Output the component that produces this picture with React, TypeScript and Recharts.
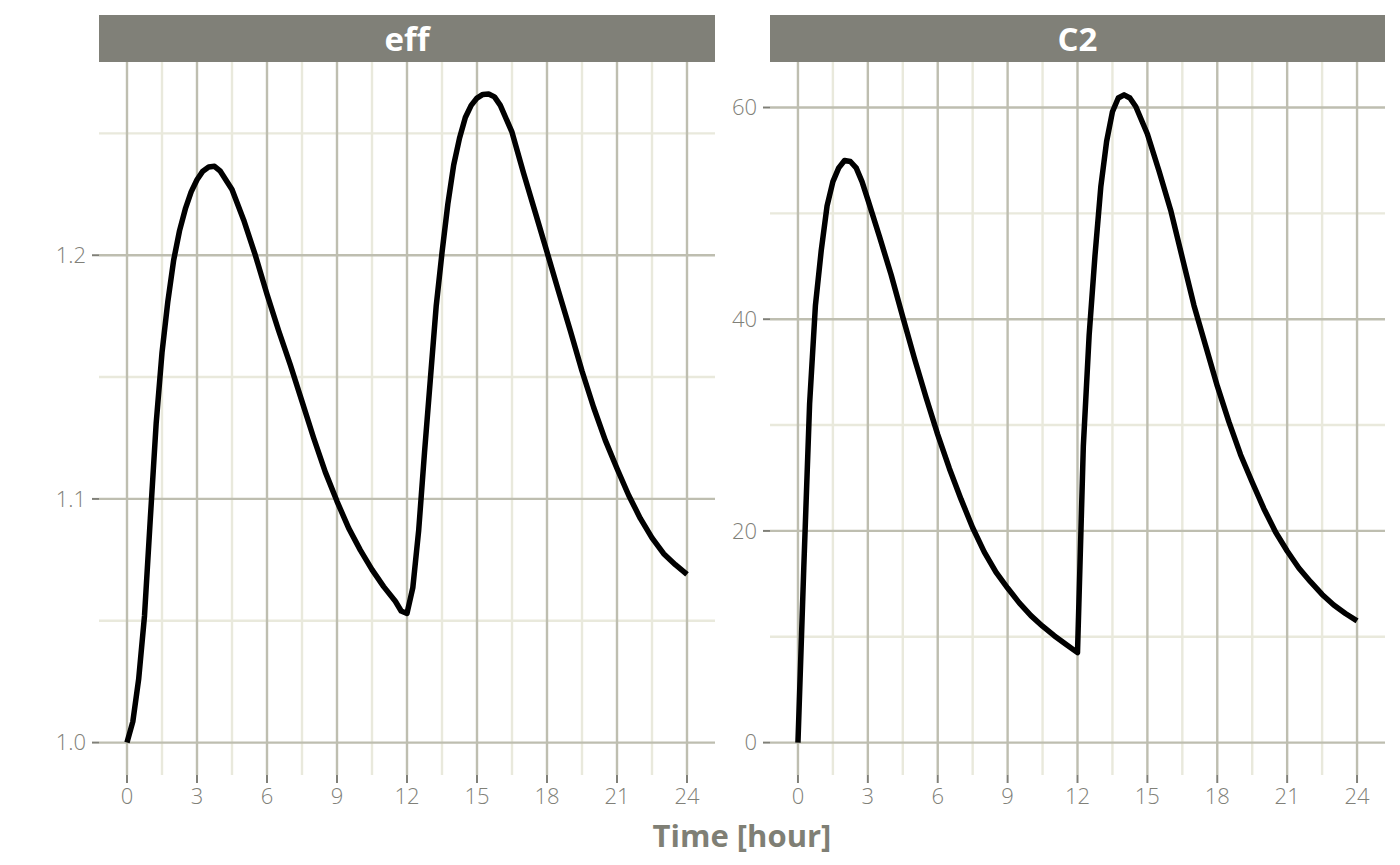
import React from 'react'
import { LineChart, Line, XAxis, YAxis, CartesianGrid } from 'recharts'

// eff panel
const effTime = [
  0, 0.25, 0.5, 0.75, 1, 1.25, 1.5, 1.75, 2, 2.25, 2.5, 2.75, 3, 3.25, 3.5, 3.75, 4, 4.5, 5, 5.5,
  6, 6.5, 7, 7.5, 8, 8.5, 9, 9.5, 10, 10.5, 11, 11.5, 11.75, 12, 12.25, 12.5, 12.75, 13, 13.25,
  13.5, 13.75, 14, 14.25, 14.5, 14.75, 15, 15.25, 15.5, 15.75, 16, 16.5, 17, 17.5, 18, 18.5, 19,
  19.5, 20, 20.5, 21, 21.5, 22, 22.5, 23, 23.5, 24,
]
const effValues = [
  1.0, 1.0086, 1.026, 1.052, 1.092, 1.131, 1.16, 1.181, 1.198, 1.21, 1.219, 1.226, 1.231, 1.2345,
  1.2362, 1.2365, 1.2345, 1.227, 1.2145, 1.2, 1.184, 1.169, 1.155, 1.14, 1.125, 1.111, 1.099,
  1.088, 1.079, 1.071, 1.064, 1.058, 1.054, 1.053, 1.0636, 1.087, 1.119, 1.149, 1.179, 1.201,
  1.221, 1.237, 1.248, 1.2565, 1.2615, 1.2645, 1.266, 1.2662, 1.265, 1.2615, 1.2505, 1.2335,
  1.2175, 1.2013, 1.185, 1.169, 1.1525, 1.1375, 1.124, 1.1125, 1.1015, 1.092, 1.084, 1.0775,
  1.073, 1.069,
]

// C2 panel
const c2Time = [
  0, 0.25, 0.5, 0.75, 1, 1.25, 1.5, 1.75, 2, 2.25, 2.5, 2.75, 3, 3.5, 4, 4.5, 5, 5.5, 6, 6.5, 7,
  7.5, 8, 8.5, 9, 9.5, 10, 10.5, 11, 11.5, 12, 12.25, 12.5, 12.75, 13, 13.25, 13.5, 13.75, 14,
  14.25, 14.5, 15, 15.5, 16, 16.5, 17, 17.5, 18, 18.5, 19, 19.5, 20, 20.5, 21, 21.5, 22, 22.5, 23,
  23.5, 24,
]
const c2Values = [
  0, 16.5, 32, 41.3, 46.5, 50.7, 53, 54.3, 55, 54.9, 54.3, 53, 51.3, 47.8, 44.2, 40.2, 36.3, 32.6,
  29.1, 25.9, 23, 20.3, 18, 16.1, 14.6, 13.2, 12, 11, 10.1, 9.3, 8.5, 28, 38.5, 46, 52.5, 56.8,
  59.6, 60.9, 61.2, 60.9, 60.1, 57.5, 54, 50.3, 45.8, 41.3, 37.5, 33.7, 30.3, 27.2, 24.6, 22.1,
  19.9, 18.1, 16.5, 15.2, 14, 13, 12.2, 11.5,
]

const timeTicks = [0, 3, 6, 9, 12, 15, 18, 21, 24]
const timeMinor = [1.5, 4.5, 7.5, 10.5, 13.5, 16.5, 19.5, 22.5]
const effTicks = [1.0, 1.1, 1.2]
const effMinor = [1.05, 1.15, 1.25]
const c2Ticks = [0, 20, 40, 60]
const c2Minor = [10, 30, 50]

const effData = effTime.map((t, i) => ({ t, v: effValues[i] }))
const c2Data = c2Time.map((t, i) => ({ t, v: c2Values[i] }))

const MAJOR = '#bebeb0'
const MINOR = '#e9e9dc'
const TEXT = '#808078'
const FONT = '"Open Sans", sans-serif'

const tickStyle = { fontSize: 22, fill: TEXT, fontFamily: FONT, fontWeight: 300 }

function Strip({ label, left, width }: { label: string; left: number; width: number }) {
  return (
    <div
      style={{
        position: 'absolute',
        left,
        top: 15,
        width,
        height: 47,
        background: '#808078',
        color: '#fff',
        fontFamily: FONT,
        fontWeight: 700,
        fontSize: 33,
        lineHeight: '47px',
        textAlign: 'center',
      }}
    >
      {label}
    </div>
  )
}

function Panel({
  data,
  yDomain,
  yTicks,
  yMinor,
  yWidth,
  width,
  right,
  fmt,
}: {
  data: { t: number; v: number }[]
  yDomain: [number, number]
  yTicks: number[]
  yMinor: number[]
  yWidth: number
  width: number
  right: number
  fmt: (v: number) => string
}) {
  return (
    <LineChart width={width} height={865} data={data} margin={{ top: 62, right, bottom: 40, left: 0 }}>
      <CartesianGrid
        stroke={MINOR}
        strokeWidth={2.4}
        horizontalValues={yMinor}
        verticalValues={timeMinor}
      />
      <CartesianGrid
        stroke={MAJOR}
        strokeWidth={2.4}
        horizontalValues={yTicks}
        verticalValues={timeTicks}
      />
      <XAxis
        dataKey="t"
        type="number"
        domain={[-1.2, 25.2]}
        ticks={timeTicks}
        interval={0}
        height={50}
        axisLine={false}
        tickLine={{ stroke: TEXT, strokeWidth: 2 }}
        tickSize={8}
        tickMargin={5}
        tick={tickStyle}
      />
      <YAxis
        type="number"
        domain={yDomain}
        ticks={yTicks}
        interval={0}
        width={yWidth}
        axisLine={false}
        tickLine={{ stroke: TEXT, strokeWidth: 2 }}
        tickSize={7}
        tickMargin={6}
        tick={tickStyle}
        tickFormatter={fmt}
        allowDataOverflow
      />
      <Line
        type="linear"
        dataKey="v"
        stroke="#000"
        strokeWidth={5.5}
        dot={false}
        strokeLinejoin="round"
        isAnimationActive={false}
      />
    </LineChart>
  )
}

export default function App() {
  return (
    <div style={{ position: 'absolute', left: 0, top: 0, width: 1400, height: 865, background: '#fff' }}>
      <div style={{ position: 'absolute', left: 0, top: 0 }}>
        <Panel
          data={effData}
          yDomain={[0.9867, 1.2793]}
          yTicks={effTicks}
          yMinor={effMinor}
          yWidth={99}
          width={740}
          right={25}
          fmt={(v) => v.toFixed(1)}
        />
      </div>
      <div style={{ position: 'absolute', left: 715, top: 0 }}>
        <Panel
          data={c2Data}
          yDomain={[-3.06, 64.3]}
          yTicks={c2Ticks}
          yMinor={c2Minor}
          yWidth={55}
          width={685}
          right={15}
          fmt={(v) => String(v)}
        />
      </div>
      <Strip label="eff" left={99} width={616} />
      <Strip label="C2" left={770} width={615} />
      <div
        style={{
          position: 'absolute',
          left: 0,
          width: 1484,
          top: 814,
          textAlign: 'center',
          fontFamily: FONT,
          fontWeight: 700,
          fontSize: 31,
          color: '#7f7f75',
        }}
      >
        Time [hour]
      </div>
    </div>
  )
}
